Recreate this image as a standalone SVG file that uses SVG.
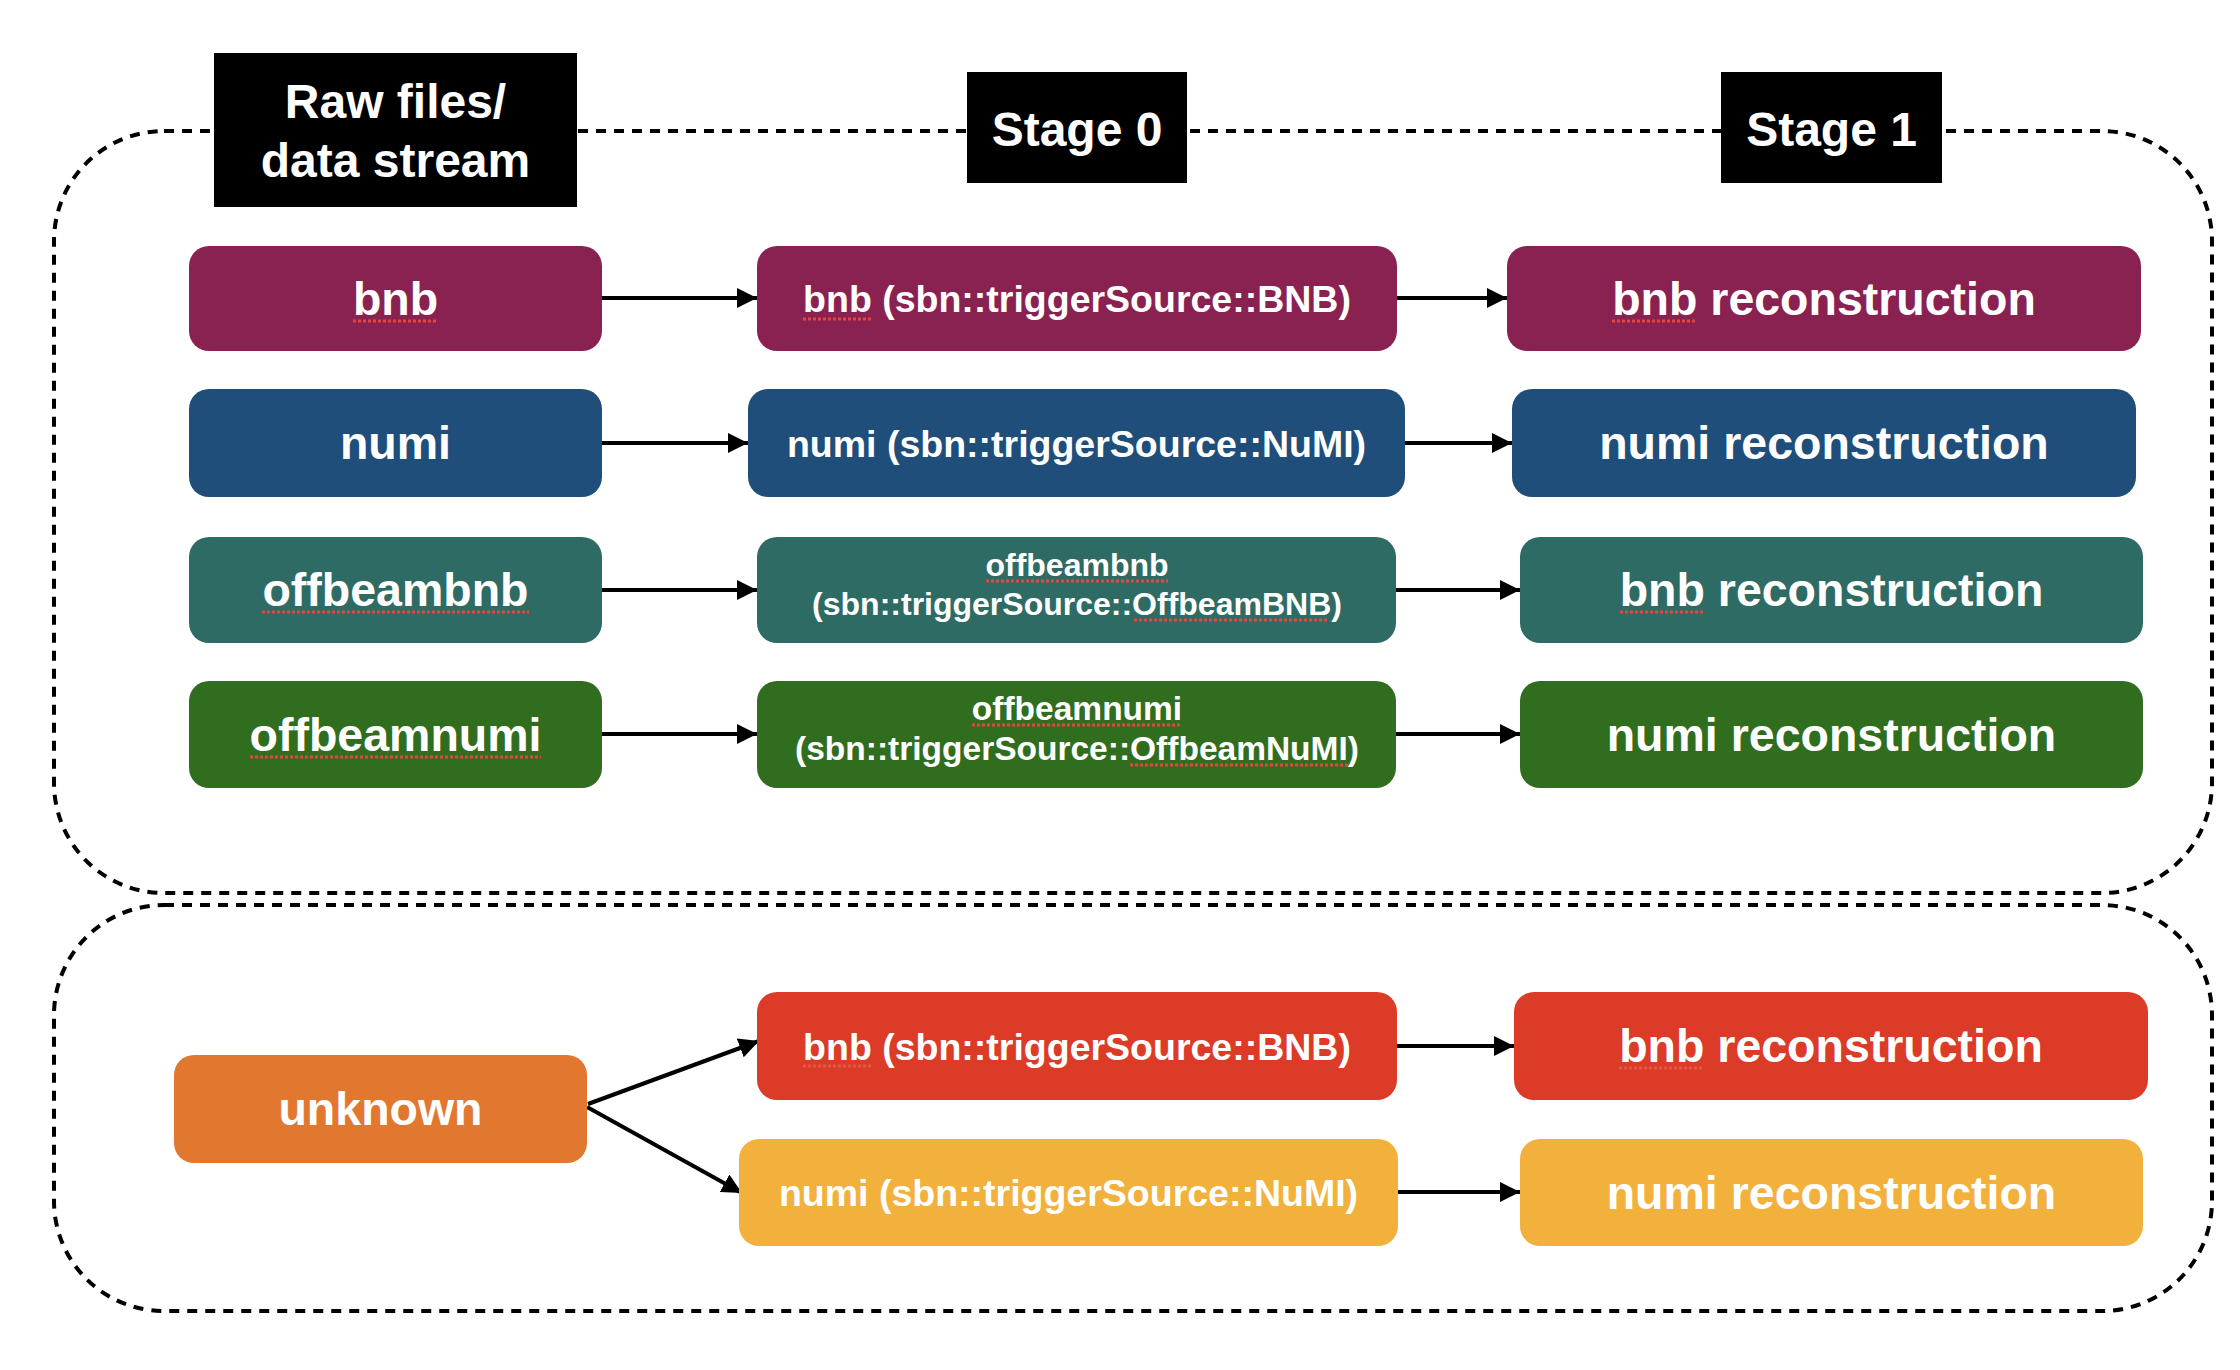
<svg xmlns="http://www.w3.org/2000/svg" width="2240" height="1370" viewBox="0 0 2240 1370">
<defs>
<marker id="ah" viewBox="0 0 20 20" refX="20" refY="10" markerWidth="20" markerHeight="20" markerUnits="userSpaceOnUse" orient="auto">
<path d="M0,0 L20,10 L0,20 z" fill="#000"/>
</marker>
</defs>
<style>
.cont{fill:none;stroke:#000;stroke-width:4;stroke-dasharray:10 8}
.hdr{fill:#000}
.ht{fill:#fff;font-family:"Liberation Sans",Arial,sans-serif;font-weight:bold;font-size:48px;text-anchor:middle}
.t{fill:#fff;font-family:"Liberation Sans",Arial,sans-serif;font-weight:bold;text-anchor:middle}
.big{font-size:46.5px}
.mid{font-size:37.5px}
.sm{font-size:32px}
.sm2{font-size:33.5px}
.edge{fill:none;stroke:#000;stroke-width:4;marker-end:url(#ah)}
.sp{fill:none;stroke:#e8453c;stroke-width:3;stroke-dasharray:3 2}
.spf{fill:none;stroke:#ee6a5a;stroke-width:3;stroke-dasharray:3 2;opacity:0.6}
.c1{fill:#8a2251}
.c2{fill:#1f4e7a}
.c3{fill:#2e6b65}
.c4{fill:#316d1f}
.c5{fill:#db3b27}
.c6{fill:#f2b13d}
.c7{fill:#e27830}
</style>

<g id="containers">
<rect class="cont" x="54" y="131" width="2158" height="762" rx="110" ry="110"/>
<rect class="cont" x="54" y="905" width="2158" height="406" rx="110" ry="110"/>
</g>

<g id="hdr-raw">
<rect class="hdr" x="214" y="53" width="363" height="154"/>
<text class="ht" x="395.5" y="118">Raw files/</text>
<text class="ht" x="395.5" y="177">data stream</text>
</g>
<g id="hdr-stage0">
<rect class="hdr" x="967" y="72" width="220" height="111"/>
<text class="ht" x="1077" y="146">Stage 0</text>
</g>
<g id="hdr-stage1">
<rect class="hdr" x="1721" y="72" width="221" height="111"/>
<text class="ht" x="1831.5" y="146">Stage 1</text>
</g>

<g id="connectors">
<line class="edge" x1="602" y1="298" x2="757" y2="298"/>
<line class="edge" x1="1397" y1="298" x2="1507" y2="298"/>
<line class="edge" x1="602" y1="443" x2="748" y2="443"/>
<line class="edge" x1="1405" y1="443" x2="1512" y2="443"/>
<line class="edge" x1="602" y1="590" x2="757" y2="590"/>
<line class="edge" x1="1396" y1="590" x2="1520" y2="590"/>
<line class="edge" x1="602" y1="734" x2="757" y2="734"/>
<line class="edge" x1="1396" y1="734" x2="1520" y2="734"/>
<line class="edge" x1="588" y1="1104" x2="759" y2="1041"/>
<line class="edge" x1="587" y1="1107" x2="742" y2="1193"/>
<line class="edge" x1="1396" y1="1046" x2="1514" y2="1046"/>
<line class="edge" x1="1398" y1="1192" x2="1520" y2="1192"/>
</g>

<g id="n-bnb">
<rect class="c1" x="189" y="246" width="413" height="105" rx="20"/>
<text class="t big" x="395.5" y="315">bnb</text>
<line class="sp" x1="353" y1="321" x2="438" y2="321"/>
</g>
<g id="n-bnb-s0">
<rect class="c1" x="757" y="246" width="640" height="105" rx="20"/>
<text class="t mid" x="1077" y="312">bnb (sbn::triggerSource::BNB)</text>
<line class="sp" x1="803" y1="319" x2="871" y2="319"/>
</g>
<g id="n-bnb-s1">
<rect class="c1" x="1507" y="246" width="634" height="105" rx="20"/>
<text class="t big" x="1824" y="315">bnb reconstruction</text>
<line class="sp" x1="1612" y1="321" x2="1697" y2="321"/>
</g>

<g id="n-numi">
<rect class="c2" x="189" y="389" width="413" height="108" rx="20"/>
<text class="t big" x="395.5" y="459">numi</text>
</g>
<g id="n-numi-s0">
<rect class="c2" x="748" y="389" width="657" height="108" rx="20"/>
<text class="t mid" x="1076.5" y="457">numi (sbn::triggerSource::NuMI)</text>
</g>
<g id="n-numi-s1">
<rect class="c2" x="1512" y="389" width="624" height="108" rx="20"/>
<text class="t big" x="1824" y="459">numi reconstruction</text>
</g>

<g id="n-offbnb">
<rect class="c3" x="189" y="537" width="413" height="106" rx="20"/>
<text class="t big" x="395.5" y="606">offbeambnb</text>
<line class="sp" x1="262" y1="612" x2="529" y2="612"/>
</g>
<g id="n-offbnb-s0">
<rect class="c3" x="757" y="537" width="639" height="106" rx="20"/>
<text class="t sm" x="1077" y="576">offbeambnb</text>
<text class="t sm" x="1077" y="615">(sbn::triggerSource::OffbeamBNB)</text>
<line class="sp" x1="986" y1="581" x2="1168" y2="581"/>
<line class="sp" x1="1134" y1="620" x2="1329" y2="620"/>
</g>
<g id="n-offbnb-s1">
<rect class="c3" x="1520" y="537" width="623" height="106" rx="20"/>
<text class="t big" x="1831.5" y="606">bnb reconstruction</text>
<line class="sp" x1="1620" y1="612" x2="1705" y2="612"/>
</g>

<g id="n-offnumi">
<rect class="c4" x="189" y="681" width="413" height="107" rx="20"/>
<text class="t big" x="395.5" y="751">offbeamnumi</text>
<line class="sp" x1="250" y1="757" x2="541" y2="757"/>
</g>
<g id="n-offnumi-s0">
<rect class="c4" x="757" y="681" width="639" height="107" rx="20"/>
<text class="t sm2" x="1077" y="720">offbeamnumi</text>
<text class="t sm2" x="1077" y="760">(sbn::triggerSource::OffbeamNuMI)</text>
<line class="sp" x1="972" y1="725" x2="1182" y2="725"/>
<line class="sp" x1="1130" y1="765" x2="1348" y2="765"/>
</g>
<g id="n-offnumi-s1">
<rect class="c4" x="1520" y="681" width="623" height="107" rx="20"/>
<text class="t big" x="1831.5" y="751">numi reconstruction</text>
</g>

<g id="n-unknown">
<rect class="c7" x="174" y="1055" width="413" height="108" rx="20"/>
<text class="t big" x="380.5" y="1125">unknown</text>
</g>
<g id="n-unk-bnb-s0">
<rect class="c5" x="757" y="992" width="640" height="108" rx="20"/>
<text class="t mid" x="1077" y="1060">bnb (sbn::triggerSource::BNB)</text>
<line class="spf" x1="803" y1="1066" x2="871" y2="1066"/>
</g>
<g id="n-unk-bnb-s1">
<rect class="c5" x="1514" y="992" width="634" height="108" rx="20"/>
<text class="t big" x="1831" y="1062">bnb reconstruction</text>
<line class="spf" x1="1619" y1="1068" x2="1704" y2="1068"/>
</g>
<g id="n-unk-numi-s0">
<rect class="c6" x="739" y="1139" width="659" height="107" rx="20"/>
<text class="t mid" x="1068.5" y="1206">numi (sbn::triggerSource::NuMI)</text>
</g>
<g id="n-unk-numi-s1">
<rect class="c6" x="1520" y="1139" width="623" height="107" rx="20"/>
<text class="t big" x="1831.5" y="1209">numi reconstruction</text>
</g>
</svg>
